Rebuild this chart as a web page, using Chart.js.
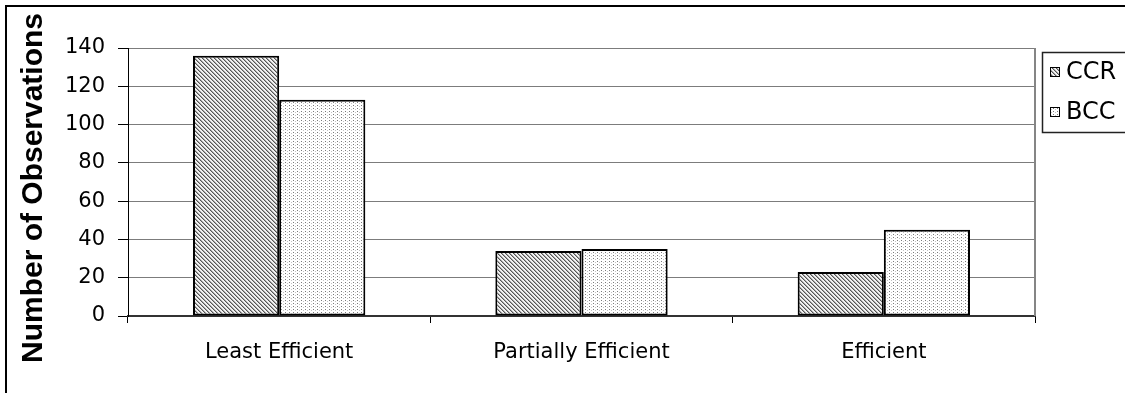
<!DOCTYPE html>
<html>
<head>
<meta charset="utf-8">
<script src="https://cdn.jsdelivr.net/npm/chart.js@4/dist/chart.umd.min.js"></script>
<style>
  html, body { margin: 0; padding: 0; background: #fff; overflow: hidden; }
  #wrap { position: relative; width: 1125px; height: 393px; }
  #frame { position: absolute; left: 5px; top: 5px; width: 1300px; height: 600px;
           border-left: 2px solid #000; border-top: 2px solid #000; pointer-events: none; }
  canvas { position: absolute; left: 0; top: 0; }
</style>
</head>
<body>
<div id="wrap">
  <canvas id="chart" width="1125" height="393"></canvas>
  <div id="frame"></div>
</div>
<script>
// Efficiency classes on the x axis
const categories = ['Least Efficient', 'Partially Efficient', 'Efficient'];
// Number of observations per class for each DEA model
const ccrValues = [136, 34, 23];
const bccValues = [113, 35, 45];
const seriesNames = ['CCR', 'BCC'];
const yTicks = [0, 20, 40, 60, 80, 100, 120, 140];
const yTitle = 'Number of Observations';

// Fill patterns: fine diagonal hatch and sparse dot columns
function hatchPattern() {
  const c = document.createElement('canvas');
  c.width = 4; c.height = 4;
  const g = c.getContext('2d');
  g.fillStyle = '#f2f2f2';
  g.fillRect(0, 0, 4, 4);
  for (let y = 0; y < 4; y++) {
    g.fillStyle = '#555555';
    g.fillRect(y % 4, y, 1, 1);
    g.fillStyle = '#a8a8a8';
    g.fillRect((y + 1) % 4, y, 1, 1);
  }
  return g.createPattern(c, 'repeat');
}
function dotPattern() {
  const c = document.createElement('canvas');
  c.width = 4; c.height = 3;
  const g = c.getContext('2d');
  g.fillStyle = '#ffffff';
  g.fillRect(0, 0, 4, 3);
  g.fillStyle = '#7a7a7a';
  g.fillRect(1, 0, 1, 1);
  g.fillStyle = '#c4c4c4';
  g.fillRect(3, 1, 1, 1);
  return g.createPattern(c, 'repeat');
}
const ctx0 = document.getElementById('chart').getContext('2d');
const fills = [hatchPattern(), dotPattern()];

const tickFont = { family: 'DejaVu Sans', size: 21 };

// Boxed legend at the right edge, drawn from the dataset list
const sideLegend = {
  id: 'sideLegend',
  afterDraw(chart) {
    const ctx = chart.ctx;
    ctx.save();
    ctx.strokeStyle = '#222';
    ctx.lineWidth = 1.5;
    ctx.strokeRect(1042.5, 52.5, 120, 80);
    ctx.font = '24px "DejaVu Sans"';
    ctx.textBaseline = 'middle';
    chart.data.datasets.forEach((ds, i) => {
      const cy = 72 + i * 40;
      ctx.fillStyle = ds.backgroundColor;
      ctx.fillRect(1050, cy - 5, 10, 10);
      ctx.strokeStyle = '#000';
      ctx.lineWidth = 1;
      ctx.strokeRect(1050.5, cy - 4.5, 9, 9);
      ctx.fillStyle = '#000';
      ctx.fillText(ds.label, 1066, cy + 1);
    });
    ctx.restore();
  }
};

// Grey frame on the right side of the plot area, plus the rotated axis title
const plotFrame = {
  id: 'plotFrame',
  beforeDatasetsDraw(chart) {
    const a = chart.chartArea;
    const ctx = chart.ctx;
    ctx.save();
    ctx.strokeStyle = '#858585';
    ctx.lineWidth = 2;
    ctx.beginPath();
    ctx.moveTo(a.right, a.top);
    ctx.lineTo(a.right, a.bottom);
    ctx.stroke();
    ctx.translate(34, 188);
    ctx.rotate(-Math.PI / 2);
    ctx.font = 'bold 30px "Liberation Sans"';
    ctx.textAlign = 'center';
    ctx.textBaseline = 'middle';
    ctx.fillStyle = '#000';
    ctx.fillText(yTitle, 0, 0);
    ctx.restore();
  }
};

new Chart(ctx0, {
  type: 'bar',
  data: {
    labels: categories,
    datasets: [
      { label: seriesNames[0], data: ccrValues, backgroundColor: fills[0],
        borderColor: '#000', borderWidth: 2, borderSkipped: false },
      { label: seriesNames[1], data: bccValues, backgroundColor: fills[1],
        borderColor: '#000', borderWidth: 2, borderSkipped: false }
    ]
  },
  options: {
    responsive: false,
    animation: false,
    devicePixelRatio: 1,
    layout: { padding: { left: 0, top: 48, right: 90, bottom: 0 } },
    plugins: { legend: { display: false }, tooltip: { enabled: false } },
    datasets: { bar: { categoryPercentage: 0.57, barPercentage: 1.0 } },
    scales: {
      x: {
        grid: { display: true, drawOnChartArea: false, drawTicks: true, tickLength: 7,
                tickColor: '#000', offset: true },
        border: { display: true, color: '#333', width: 2 },
        ticks: { color: '#000', font: tickFont, padding: 17, maxRotation: 0 },
        afterFit(s) { s.height = 77; }
      },
      y: {
        min: 0, max: 140,
        afterBuildTicks(s) { s.ticks = yTicks.map(v => ({ value: v })); },
        grid: { color: '#7c7c7c', lineWidth: 1, tickLength: 10, tickColor: '#000' },
        border: { display: true, color: '#000', width: 1 },
        ticks: { color: '#000', font: tickFont, padding: 13 },
        afterFit(s) { s.width = 128; }
      }
    }
  },
  plugins: [plotFrame, sideLegend]
});
</script>
</body>
</html>
